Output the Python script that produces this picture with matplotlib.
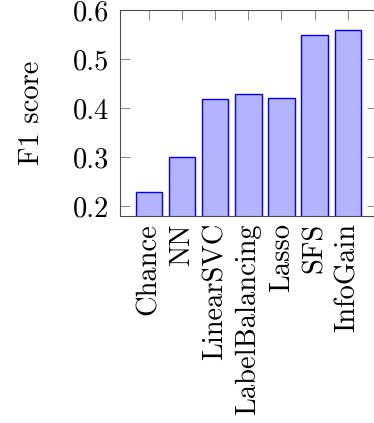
import numpy as np
import matplotlib
matplotlib.use("Agg")
import matplotlib.pyplot as plt

# data
methods = ['Chance', 'NN', 'LinearSVC', 'LabelBalancing', 'Lasso', 'SFS', 'InfoGain']
f1_scores = [0.23, 0.30, 0.418, 0.429, 0.42, 0.549, 0.559]
yticks = [0.2, 0.3, 0.4, 0.5, 0.6]

plt.rcParams['font.family'] = 'serif'
plt.rcParams['font.serif'] = ['cmr10']
plt.rcParams['axes.formatter.use_mathtext'] = True
plt.rcParams['font.size'] = 20.5

fig = plt.figure(figsize=(3.74, 4.23), dpi=100)
ax = fig.add_axes([0.321, 0.489, 0.686, 0.487])

x = np.arange(len(methods))
ax.bar(x, f1_scores, width=0.8, color='#b3b3ff', edgecolor='#0000ff',
       linewidth=1.0, zorder=2)

ax.set_xlim(-0.87, len(methods) - 1 + 0.87)
ax.set_ylim(0.18, 0.6)
ax.set_xticks(x)
ax.set_xticklabels(methods, rotation=90)
ax.set_yticks(yticks)
ax.set_yticklabels(['%.1f' % v for v in yticks])
ax.set_ylabel('F1 score', labelpad=20)

for s in ax.spines.values():
    s.set_color('0.3')
    s.set_linewidth(0.8)
ax.tick_params(direction='in', length=7, width=0.6, color='0.45',
               top=True, right=True, pad=8)
ax.tick_params(axis='x', pad=5)

fig.savefig('out.png', dpi=100)
